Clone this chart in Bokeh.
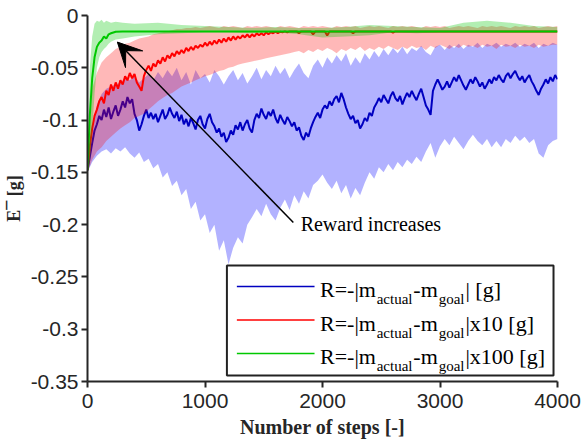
from bokeh.plotting import figure
from bokeh.models import Range1d, Arrow, VeeHead
from bokeh.core.properties import value
from bokeh.embed import file_html
from bokeh.resources import INLINE

# ---------------- data ----------------
steps = list(range(0, 4001, 40))        # grid of the shaded bands
blue_steps = list(range(0, 4001, 20))   # grid of the blue mean curve

blue_mean = [
    -0.148, -0.135, -0.122, -0.110, -0.104, -0.096, -0.100, -0.090, -0.097, -0.088,
    -0.099, -0.092, -0.086, -0.096, -0.090, -0.082, -0.088, -0.078, -0.084, -0.080,
    -0.094, -0.100, -0.110, -0.104, -0.096, -0.090, -0.098, -0.093, -0.099, -0.094,
    -0.102, -0.096, -0.090, -0.099, -0.095, -0.088, -0.094, -0.098, -0.092, -0.101,
    -0.095, -0.104, -0.099, -0.106, -0.098, -0.103, -0.109, -0.100, -0.096, -0.104,
    -0.108, -0.099, -0.094, -0.102, -0.106, -0.112, -0.108, -0.116, -0.112, -0.121,
    -0.117, -0.110, -0.114, -0.105, -0.109, -0.102, -0.110, -0.104, -0.100, -0.108,
    -0.112, -0.100, -0.094, -0.098, -0.089, -0.095, -0.099, -0.092, -0.096, -0.090,
    -0.098, -0.103, -0.095, -0.100, -0.104, -0.097, -0.101, -0.106, -0.102, -0.110,
    -0.107, -0.115, -0.119, -0.112, -0.116, -0.108, -0.102, -0.097, -0.093, -0.098,
    -0.090, -0.086, -0.089, -0.082, -0.086, -0.080, -0.077, -0.083, -0.074, -0.080,
    -0.088, -0.094, -0.099, -0.096, -0.103, -0.100, -0.108, -0.104, -0.098, -0.101,
    -0.093, -0.096, -0.088, -0.084, -0.079, -0.083, -0.076, -0.080, -0.084, -0.077,
    -0.073, -0.079, -0.082, -0.077, -0.085, -0.079, -0.074, -0.078, -0.072, -0.077,
    -0.081, -0.075, -0.070, -0.078, -0.086, -0.090, -0.095, -0.072, -0.066, -0.061,
    -0.066, -0.071, -0.068, -0.063, -0.069, -0.064, -0.059, -0.063, -0.057, -0.062,
    -0.067, -0.071, -0.066, -0.061, -0.065, -0.059, -0.063, -0.068, -0.064, -0.070,
    -0.066, -0.061, -0.065, -0.059, -0.062, -0.057, -0.061, -0.064, -0.058, -0.055,
    -0.060, -0.056, -0.053, -0.058, -0.062, -0.058, -0.064, -0.060, -0.057, -0.063,
    -0.067, -0.072, -0.076, -0.070, -0.066, -0.061, -0.065, -0.059, -0.063, -0.057,
    -0.061,
]
blue_upper = [
    -0.148, -0.110, -0.085, -0.075, -0.070, -0.068, -0.066, -0.064, -0.060, -0.062,
    -0.058, -0.064, -0.060, -0.056, -0.062, -0.054, -0.060, -0.052, -0.058, -0.050,
    -0.062, -0.054, -0.066, -0.052, -0.060, -0.056, -0.064, -0.052, -0.058, -0.066,
    -0.058, -0.052, -0.062, -0.055, -0.065, -0.058, -0.050, -0.061, -0.052, -0.058,
    -0.048, -0.056, -0.050, -0.060, -0.052, -0.046, -0.055, -0.060, -0.048, -0.042,
    -0.050, -0.040, -0.046, -0.038, -0.044, -0.036, -0.048, -0.040, -0.046, -0.036,
    -0.042, -0.034, -0.040, -0.032, -0.038, -0.031, -0.036, -0.030, -0.037, -0.031,
    -0.034, -0.029, -0.035, -0.038, -0.030, -0.028, -0.033, -0.028, -0.031, -0.027,
    -0.032, -0.028, -0.030, -0.026, -0.031, -0.027, -0.029, -0.026, -0.030, -0.027,
    -0.029, -0.026, -0.030, -0.027, -0.029, -0.026, -0.031, -0.027, -0.029, -0.026,
    -0.028,
]
blue_lower = [
    -0.150, -0.140, -0.134, -0.130, -0.128, -0.132, -0.127, -0.130, -0.126, -0.132,
    -0.136, -0.131, -0.140, -0.137, -0.146, -0.142, -0.155, -0.150, -0.163, -0.158,
    -0.172, -0.166, -0.185, -0.178, -0.196, -0.190, -0.208, -0.200, -0.225, -0.215,
    -0.238, -0.222, -0.212, -0.218, -0.200, -0.193, -0.185, -0.192, -0.180, -0.190,
    -0.196, -0.184, -0.176, -0.186, -0.172, -0.180, -0.168, -0.175, -0.162, -0.158,
    -0.152, -0.160, -0.166, -0.158, -0.170, -0.162, -0.175, -0.165, -0.172, -0.160,
    -0.150, -0.156, -0.145, -0.150, -0.142, -0.148, -0.140, -0.145, -0.138, -0.142,
    -0.135, -0.140, -0.130, -0.122, -0.136, -0.125, -0.118, -0.124, -0.116, -0.122,
    -0.128, -0.120, -0.114, -0.120, -0.124, -0.118, -0.126, -0.120, -0.126, -0.118,
    -0.122, -0.115, -0.120, -0.116, -0.122, -0.118, -0.132, -0.136, -0.124, -0.120,
    -0.118,
]

red_steps = list(range(0, 1761, 20)) + [1780, 1800, 1820, 1900, 1920, 1940, 2020, 2040,
                                        2060, 2240, 2260, 2280, 2580, 2600, 2620, 4000]
red_mean = [
    -0.148, -0.125, -0.108, -0.096, -0.090, -0.082, -0.078, -0.084, -0.072, -0.076,
    -0.066, -0.072, -0.064, -0.070, -0.062, -0.066, -0.058, -0.062, -0.055, -0.060,
    -0.056, -0.064, -0.068, -0.072, -0.058, -0.052, -0.048, -0.053, -0.046, -0.049,
    -0.043, -0.046, -0.040, -0.044, -0.038, -0.041, -0.036, -0.039, -0.034, -0.037,
    -0.033, -0.036, -0.031, -0.034, -0.030, -0.033, -0.029, -0.031, -0.028, -0.030,
    -0.026, -0.029, -0.025, -0.028, -0.024, -0.027, -0.023, -0.026, -0.022, -0.025,
    -0.021, -0.024, -0.020, -0.023, -0.020, -0.022, -0.019, -0.021, -0.018, -0.021,
    -0.018, -0.020, -0.017, -0.019, -0.017, -0.019, -0.016, -0.018, -0.016, -0.017,
    -0.0155, -0.017, -0.0155, -0.016, -0.0152, -0.016, -0.0152, -0.0152, -0.0152,
    -0.0152, -0.017, -0.0152, -0.0152, -0.018, -0.0152, -0.0152, -0.019, -0.0152,
    -0.0152, -0.017, -0.0152, -0.0152, -0.0165, -0.0152, -0.0152,
]
red_upper = [
    -0.148, -0.070, -0.055, -0.045, -0.040, -0.036, -0.032, -0.030, -0.027, -0.026,
    -0.024, -0.022, -0.021, -0.020, -0.018, -0.017, -0.016, -0.015, -0.014, -0.013,
    -0.013, -0.012, -0.012, -0.011, -0.012, -0.011, -0.010, -0.011, -0.012, -0.010,
    -0.011, -0.010, -0.011, -0.012, -0.010, -0.011, -0.010, -0.011, -0.010, -0.011,
    -0.012, -0.010, -0.011, -0.010, -0.011, -0.012, -0.010, -0.011, -0.010, -0.011,
    -0.010, -0.011, -0.012, -0.010, -0.011, -0.010, -0.011, -0.010, -0.012, -0.011,
    -0.010, -0.011, -0.010, -0.011, -0.012, -0.010, -0.011, -0.010, -0.011, -0.010,
    -0.011, -0.012, -0.010, -0.011, -0.010, -0.011, -0.010, -0.012, -0.011, -0.010,
    -0.011, -0.010, -0.011, -0.012, -0.010, -0.011, -0.010, -0.011, -0.010, -0.011,
    -0.012, -0.010, -0.011, -0.010, -0.011, -0.010, -0.012, -0.011, -0.010, -0.011,
    -0.010,
]
red_lower = [
    -0.150, -0.138, -0.130, -0.126, -0.120, -0.116, -0.112, -0.108, -0.105, -0.102,
    -0.098, -0.096, -0.094, -0.090, -0.086, -0.082, -0.079, -0.076, -0.074, -0.071,
    -0.068, -0.066, -0.064, -0.062, -0.060, -0.058, -0.057, -0.055, -0.053, -0.052,
    -0.050, -0.049, -0.047, -0.046, -0.045, -0.044, -0.043, -0.042, -0.041, -0.040,
    -0.039, -0.038, -0.037, -0.036, -0.035, -0.034, -0.036, -0.033, -0.035, -0.032,
    -0.034, -0.031, -0.033, -0.036, -0.032, -0.034, -0.031, -0.033, -0.030, -0.034,
    -0.031, -0.033, -0.030, -0.032, -0.029, -0.031, -0.033, -0.030, -0.032, -0.029,
    -0.031, -0.030, -0.033, -0.029, -0.031, -0.028, -0.030, -0.032, -0.029, -0.031,
    -0.028, -0.030, -0.029, -0.031, -0.028, -0.030, -0.029, -0.032, -0.028, -0.030,
    -0.029, -0.031, -0.028, -0.030, -0.029, -0.031, -0.028, -0.030, -0.029, -0.028,
    -0.028,
]

green_steps = [0, 20, 40, 60, 80, 100, 120, 140, 160, 180, 200, 240, 300, 400, 600, 800,
               1000, 1200, 1400, 1600, 1800, 2000, 2200, 2400, 2600, 2800, 3000, 3200,
               3400, 3600, 3800, 4000]
green_mean = [-0.148, -0.095, -0.060, -0.040, -0.030, -0.026, -0.024, -0.020, -0.022,
              -0.018, -0.017, -0.0155, -0.0152, -0.0152, -0.0152, -0.0152, -0.0152,
              -0.0152, -0.0152, -0.0152, -0.0152, -0.0152, -0.0152, -0.0152, -0.0152,
              -0.0152, -0.0152, -0.0152, -0.0152, -0.0152, -0.0152, -0.0152]
green_upper = [-0.148, -0.050, -0.020, -0.008, -0.005, -0.006, -0.004, -0.007, -0.005,
               -0.006, -0.007, -0.006, -0.007, -0.008, -0.007, -0.009, -0.010, -0.011,
               -0.012, -0.011, -0.012, -0.012, -0.011, -0.009, -0.010, -0.011, -0.012,
               -0.007, -0.005, -0.007, -0.010, -0.011]
green_lower = [-0.150, -0.140, -0.110, -0.075, -0.050, -0.040, -0.035, -0.032, -0.030,
               -0.027, -0.025, -0.023, -0.022, -0.020, -0.018, -0.017, -0.016, -0.016,
               -0.017, -0.016, -0.018, -0.021, -0.020, -0.019, -0.016, -0.017, -0.016,
               -0.016, -0.016, -0.016, -0.016, -0.016]

x_ticks = [0, 1000, 2000, 3000, 4000]
y_ticks = [0, -0.05, -0.1, -0.15, -0.2, -0.25, -0.3, -0.35]
y_tick_labels = ["0", "-0.05", "-0.1", "-0.15", "-0.2", "-0.25", "-0.3", "-0.35"]

legend_main = ["R=-|m", "-m"]
legend_subs = ["actual", "goal"]
legend_tails = ["| [g]", "|x10 [g]", "|x100 [g]"]

annotation_text = "Reward increases"
arrow_tail = (1752, -0.198)
arrow_head = (254, -0.0254)
text_pos = (1814, -0.1995)

# ---------------- layout ----------------
W, H = 583, 441
FL, FT, FW, FH = 85, 15, 472, 366
X0, X1, Y0, Y1 = 0, 4000, -0.35, 0.0

# Times / Liberation Serif advance widths (per 1000 em) for legend layout
TIMES = {"R": 667, "=": 564, "-": 333, "|": 200, "m": 778, "a": 444, "c": 444,
         "t": 278, "u": 500, "l": 278, "g": 500, "o": 500, " ": 250, "[": 333,
         "]": 333, "x": 500, "1": 500, "0": 500}


def text_w(s, size):
    return sum(TIMES.get(ch, 500) for ch in s) * size / 1000.0


def dx(px):
    return X0 + (px - FL) / FW * (X1 - X0)


def dy(py):
    return Y1 - (py - FT) / FH * (Y1 - Y0)


p = figure(width=W, height=H, x_range=Range1d(X0, X1), y_range=Range1d(Y0, Y1),
           output_backend="svg", toolbar_location=None,
           min_border_left=FL, min_border_right=W - FL - FW,
           min_border_top=FT, min_border_bottom=H - FT - FH)
p.grid.visible = False
p.outline_line_color = None
p.background_fill_color = "white"
p.border_fill_color = "white"

BLUE, RED, GREEN = "#0000c0", "#ff0000", "#00c800"

p.varea(x=steps, y1=blue_lower, y2=blue_upper, fill_color="#0000ff", fill_alpha=0.3)
p.line(blue_steps, blue_mean, line_color=BLUE, line_width=2)
p.varea(x=steps, y1=red_lower, y2=red_upper, fill_color="#ff0000", fill_alpha=0.28)
p.line(red_steps, red_mean, line_color=RED, line_width=2)
p.varea(x=green_steps, y1=green_lower, y2=green_upper, fill_color="#00c800", fill_alpha=0.3)
p.line(green_steps, green_mean, line_color=GREEN, line_width=2)

# arrow + annotation
p.add_layout(Arrow(end=VeeHead(size=24, fill_color="black", line_color="black"),
                   x_start=arrow_tail[0], y_start=arrow_tail[1],
                   x_end=arrow_head[0], y_end=arrow_head[1],
                   line_color="black", line_width=1.5))
p.text(x=[text_pos[0]], y=[text_pos[1]], text=[annotation_text],
       text_font=value("Liberation Serif"), text_font_size="20px",
       text_baseline="middle", text_align="left", text_color="black")

# legend (manual so that subscripts can be drawn)
LB_L, LB_T, LB_R, LB_B = 225, 265, 553, 375
p.quad(left=[dx(LB_L)], right=[dx(LB_R)], top=[dy(LB_T)], bottom=[dy(LB_B)],
       fill_color="white", line_color="#222222", line_width=2)
row_line_y = [286, 319.5, 353]
colors = [BLUE, RED, GREEN]
MAIN, SUB, GAP = 22, 15, 1.0
for i, (ly, col) in enumerate(zip(row_line_y, colors)):
    p.line([dx(235), dx(313)], [dy(ly), dy(ly)], line_color=col, line_width=1.5)
    base = ly + 3
    pieces = [(legend_main[0], False), (legend_subs[0], True), (legend_main[1], False),
              (legend_subs[1], True), (legend_tails[i], False)]
    cx = 318.5
    for txt, sub in pieces:
        size = SUB if sub else MAIN
        p.text(x=[dx(cx)], y=[dy(base + (9.5 if sub else 0))], text=[txt],
               text_font=value("Liberation Serif"), text_font_size=f"{size}px",
               text_baseline="alphabetic", text_align="left", text_color="black")
        cx += text_w(txt, size) + GAP

# axes
for ax in (p.xaxis, p.yaxis):
    ax.axis_line_width = 2
    ax.axis_line_color = "#262626"
    ax.major_tick_line_color = "#262626"
    ax.major_tick_line_width = 2
    ax.major_tick_in = 0
    ax.major_tick_out = 6
    ax.minor_tick_line_color = None
    ax.major_label_text_font = "Liberation Sans"
    ax.major_label_text_font_size = "21px"
    ax.major_label_text_color = "#262626"
    ax.axis_label_text_font = "Liberation Serif"
    ax.axis_label_text_font_style = "bold"
    ax.axis_label_text_color = "#262626"

p.xaxis.ticker = x_ticks
p.yaxis.ticker = y_ticks
p.yaxis.major_label_overrides = {t: l for t, l in zip(y_ticks, y_tick_labels)}
p.xaxis.axis_label = "Number of steps [-]"
p.yaxis.axis_label = "E\u00af [g]"
p.xaxis.axis_label_text_font_size = "20px"
p.yaxis.axis_label_text_font_size = "18px"
p.xaxis.major_label_standoff = 6
p.yaxis.major_label_standoff = 3
p.xaxis.axis_label_standoff = 5
p.yaxis.axis_label_standoff = 4

open("out.html", "w").write(file_html(p, INLINE))
